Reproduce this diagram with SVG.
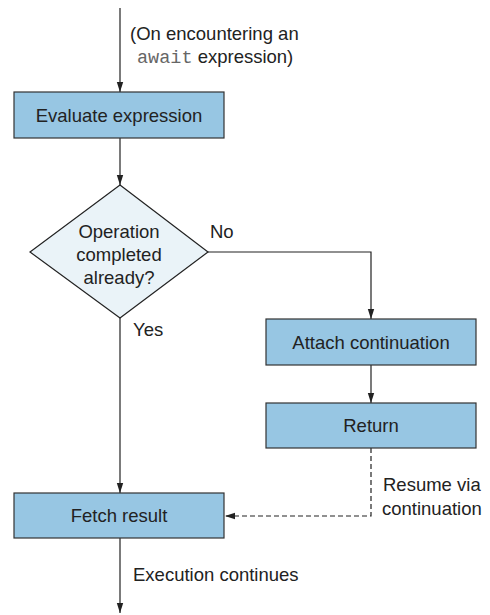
<svg xmlns="http://www.w3.org/2000/svg" width="490" height="615" viewBox="0 0 490 615">
<defs>
<marker id="arr" viewBox="0 0 10 10" refX="10" refY="5" markerWidth="10" markerHeight="10" markerUnits="userSpaceOnUse" orient="auto">
<path d="M0,1.8 L10,5 L0,8.2 z" fill="#222"/>
</marker>
<style>
.box{fill:#97c6e3;stroke:#333;stroke-width:1.2}
.dia{fill:#eaf3f8;stroke:#222;stroke-width:1.2}
.t{font-family:"Liberation Sans",Arial,sans-serif;font-size:18.5px;fill:#222}
.m{font-family:"Liberation Mono","Courier New",monospace;font-size:18.5px;fill:#666}
.c{text-anchor:middle}
.ln{fill:none;stroke:#222;stroke-width:1.2}
.dash{stroke-dasharray:5,3}
</style>
</defs>
<rect width="490" height="615" fill="#fff"/>
<g id="connectors">
<path class="ln" d="M120,8 L120,92" marker-end="url(#arr)"/>
<path class="ln" d="M120,138 L120,185" marker-end="url(#arr)"/>
<path class="ln" d="M208,252 L371,252 L371,319" marker-end="url(#arr)"/>
<path class="ln" d="M371,365 L371,403" marker-end="url(#arr)"/>
<path class="ln" d="M120,318 L120,493" marker-end="url(#arr)"/>
<path class="ln dash" d="M371,448 L371,516 L225,516" marker-end="url(#arr)"/>
<path class="ln" d="M120,538 L120,613" marker-end="url(#arr)"/>
<text class="t" x="130" y="40">(On encountering an</text>
<text x="137" y="63"><tspan class="m">await</tspan><tspan class="t"> expression)</tspan></text>
<text class="t" x="210" y="238">No</text>
<text class="t" x="133" y="336">Yes</text>
<text class="t" x="383" y="491">Resume via</text>
<text class="t" x="382" y="515">continuation</text>
<text class="t" x="133" y="581">Execution continues</text>
</g>
<g id="evaluate">
<rect class="box" x="14" y="92" width="210" height="46"/>
<text class="t c" x="119" y="122">Evaluate expression</text>
</g>
<g id="decision">
<polygon class="dia" points="120,185 208,252 120,318 30,252"/>
<text class="t c" x="119" y="238">Operation</text>
<text class="t c" x="119" y="261">completed</text>
<text class="t c" x="119" y="284">already?</text>
</g>
<g id="attach">
<rect class="box" x="266" y="319" width="210" height="46"/>
<text class="t c" x="371" y="349">Attach continuation</text>
</g>
<g id="return">
<rect class="box" x="266" y="403" width="210" height="45"/>
<text class="t c" x="371" y="432">Return</text>
</g>
<g id="fetch">
<rect class="box" x="14" y="493" width="210" height="45"/>
<text class="t c" x="119" y="522">Fetch result</text>
</g>
</svg>
